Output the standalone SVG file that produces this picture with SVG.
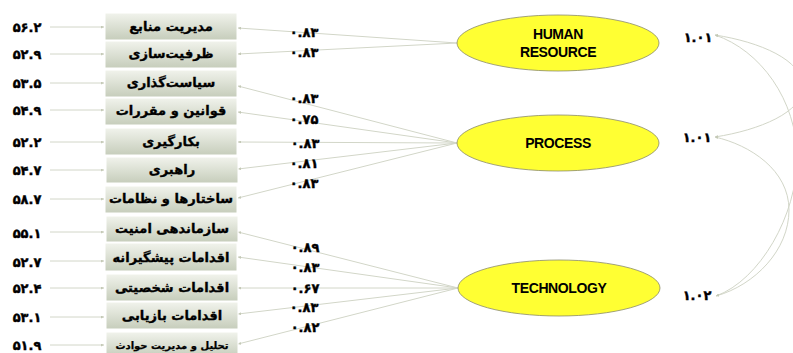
<svg xmlns="http://www.w3.org/2000/svg" width="793" height="353" viewBox="0 0 793 353">
<defs>
<linearGradient id="boxg" x1="0" y1="0" x2="0" y2="1">
<stop offset="0" stop-color="#f1f3ec"/>
<stop offset="1" stop-color="#c6cdbb"/>
</linearGradient>
<marker id="ah" viewBox="0 0 6 6" refX="6" refY="3" markerWidth="3" markerHeight="3" orient="auto" markerUnits="userSpaceOnUse">
<path d="M0,0 L6,3 L0,6 z" fill="#c4c9b6"/>
</marker>
<marker id="ahs" viewBox="0 0 6 6" refX="0" refY="3" markerWidth="3" markerHeight="3" orient="auto" markerUnits="userSpaceOnUse">
<path d="M6,0 L0,3 L6,6 z" fill="#c4c9b6"/>
</marker>
</defs>
<style>
.box{fill:url(#boxg);stroke:#ffffff;stroke-width:1}
.fa{font-family:"DejaVu Sans",sans-serif;font-weight:bold;font-size:13px;fill:#000;stroke:#000;stroke-width:0.35;text-anchor:middle}
.num{font-family:"DejaVu Sans",sans-serif;font-weight:bold;font-size:13px;fill:#000;stroke:#000;stroke-width:0.4;text-anchor:middle}
.lat{fill:#ffff33;stroke:#8a8a6a;stroke-width:0.8}
.en{font-family:"Liberation Sans",Arial,sans-serif;font-weight:bold;font-size:14px;fill:#000;text-anchor:middle;letter-spacing:-0.4px}
.ln{stroke:#d2d6c8;stroke-width:1;fill:none}
</style>
<rect width="793" height="353" fill="#ffffff"/>

<g id="connectors">
<line class="ln" x1="50" y1="27" x2="104" y2="27" marker-end="url(#ah)"/>
<line class="ln" x1="50" y1="54" x2="104" y2="54" marker-end="url(#ah)"/>
<line class="ln" x1="50" y1="83" x2="104" y2="83" marker-end="url(#ah)"/>
<line class="ln" x1="50" y1="110" x2="104" y2="110" marker-end="url(#ah)"/>
<line class="ln" x1="50" y1="142" x2="104" y2="142" marker-end="url(#ah)"/>
<line class="ln" x1="50" y1="170" x2="104" y2="170" marker-end="url(#ah)"/>
<line class="ln" x1="50" y1="199" x2="104" y2="199" marker-end="url(#ah)"/>
<line class="ln" x1="50" y1="232" x2="104" y2="232" marker-end="url(#ah)"/>
<line class="ln" x1="50" y1="261" x2="104" y2="261" marker-end="url(#ah)"/>
<line class="ln" x1="50" y1="288" x2="104" y2="288" marker-end="url(#ah)"/>
<line class="ln" x1="50" y1="317" x2="104" y2="317" marker-end="url(#ah)"/>
<line class="ln" x1="50" y1="345" x2="104" y2="345" marker-end="url(#ah)"/>
<line class="ln" x1="457" y1="43" x2="238" y2="28" marker-end="url(#ah)"/>
<line class="ln" x1="457" y1="43" x2="238" y2="54" marker-end="url(#ah)"/>
<line class="ln" x1="457" y1="143" x2="238" y2="86" marker-end="url(#ah)"/>
<line class="ln" x1="457" y1="143" x2="238" y2="112" marker-end="url(#ah)"/>
<line class="ln" x1="457" y1="143" x2="238" y2="142" marker-end="url(#ah)"/>
<line class="ln" x1="457" y1="143" x2="238" y2="169" marker-end="url(#ah)"/>
<line class="ln" x1="457" y1="143" x2="238" y2="198" marker-end="url(#ah)"/>
<line class="ln" x1="458" y1="288" x2="238" y2="232" marker-end="url(#ah)"/>
<line class="ln" x1="458" y1="288" x2="238" y2="257" marker-end="url(#ah)"/>
<line class="ln" x1="458" y1="288" x2="238" y2="288" marker-end="url(#ah)"/>
<line class="ln" x1="458" y1="288" x2="238" y2="314" marker-end="url(#ah)"/>
<line class="ln" x1="458" y1="288" x2="238" y2="344" marker-end="url(#ah)"/>
<path class="ln" d="M715,35 C760,42 803,60 803,87 C803,112 760,130 715,137" marker-start="url(#ahs)" marker-end="url(#ah)"/>
<path class="ln" d="M715,35 C760,50 797,100 797,158 C797,215 760,280 716,296" marker-start="url(#ahs)" marker-end="url(#ah)"/>
<path class="ln" d="M715,137 C750,145 789,170 789,210 C789,250 755,285 716,296" marker-start="url(#ahs)" marker-end="url(#ah)"/>
</g>

<g id="errors">
<text class="num" x="27" y="32">۵۶.۲</text>
<text class="num" x="27" y="59">۵۲.۹</text>
<text class="num" x="27" y="88">۵۳.۵</text>
<text class="num" x="27" y="115">۵۴.۹</text>
<text class="num" x="27" y="147">۵۲.۲</text>
<text class="num" x="27" y="175">۵۴.۷</text>
<text class="num" x="27" y="204">۵۸.۷</text>
<text class="num" x="27" y="238">۵۵.۱</text>
<text class="num" x="27" y="267">۵۲.۷</text>
<text class="num" x="27" y="293">۵۲.۴</text>
<text class="num" x="27" y="322">۵۳.۱</text>
<text class="num" x="27" y="350">۵۱.۹</text>
</g>

<g id="n1"><rect class="box" x="105" y="13" width="132" height="27"/><text class="fa" x="171" y="31">مدیریت منابع</text></g>
<g id="n2"><rect class="box" x="105" y="41" width="132" height="27"/><text class="fa" x="171" y="58">ظرفیت‌سازی</text></g>
<g id="n3"><rect class="box" x="105" y="70" width="132" height="27"/><text class="fa" x="171" y="87">سیاست‌گذاری</text></g>
<g id="n4"><rect class="box" x="105" y="98" width="132" height="27"/><text class="fa" x="171" y="115">قوانین و مقررات</text></g>
<g id="n5"><rect class="box" x="105" y="128" width="132" height="27"/><text class="fa" x="171" y="146">بکارگیری</text></g>
<g id="n6"><rect class="box" x="106" y="157" width="132" height="26"/><text class="fa" x="172" y="174">راهبری</text></g>
<g id="n7"><rect class="box" x="105" y="186" width="132" height="27"/><text class="fa" x="171" y="203">ساختارها و نظامات</text></g>
<g id="n8"><rect class="box" x="106" y="216" width="132" height="26"/><text class="fa" x="172" y="233">سازماندهی امنیت</text></g>
<g id="n9"><rect class="box" x="105" y="243" width="132" height="28"/><text class="fa" x="171" y="262">اقدامات پیشگیرانه</text></g>
<g id="n10"><rect class="box" x="106" y="274" width="132" height="27"/><text class="fa" x="172" y="292">اقدامات شخصیتی</text></g>
<g id="n11"><rect class="box" x="106" y="302" width="132" height="27"/><text class="fa" x="172" y="320">اقدامات بازیابی</text></g>
<g id="n12"><rect class="box" x="106" y="332" width="132" height="25"/><text class="fa" x="172" y="349" style="font-size:10px;stroke-width:0.25">تحلیل و مدیریت حوادث</text></g>

<g id="loadings">
<text class="num" x="304" y="37">۰.۸۳</text>
<text class="num" x="304" y="57">۰.۸۳</text>
<text class="num" x="304" y="103">۰.۸۳</text>
<text class="num" x="304" y="124">۰.۷۵</text>
<text class="num" x="305" y="148">۰.۸۳</text>
<text class="num" x="304" y="168">۰.۸۱</text>
<text class="num" x="304" y="188">۰.۸۳</text>
<text class="num" x="305" y="252">۰.۸۹</text>
<text class="num" x="305" y="272">۰.۸۳</text>
<text class="num" x="305" y="293">۰.۶۷</text>
<text class="num" x="304" y="312">۰.۸۳</text>
<text class="num" x="305" y="332">۰.۸۲</text>
</g>

<g id="hr"><ellipse class="lat" cx="558" cy="43" rx="101" ry="28"/><text class="en" x="558" y="39">HUMAN</text><text class="en" x="558" y="57">RESOURCE</text></g>
<g id="process"><ellipse class="lat" cx="558" cy="143" rx="101" ry="28"/><text class="en" x="558" y="148">PROCESS</text></g>
<g id="technology"><ellipse class="lat" cx="559" cy="288" rx="101" ry="28"/><text class="en" x="559" y="293">TECHNOLOGY</text></g>

<g id="variances">
<text class="num" x="698" y="42">۱.۰۱</text>
<text class="num" x="697" y="142">۱.۰۱</text>
<text class="num" x="697" y="300">۱.۰۲</text>
</g>
</svg>
